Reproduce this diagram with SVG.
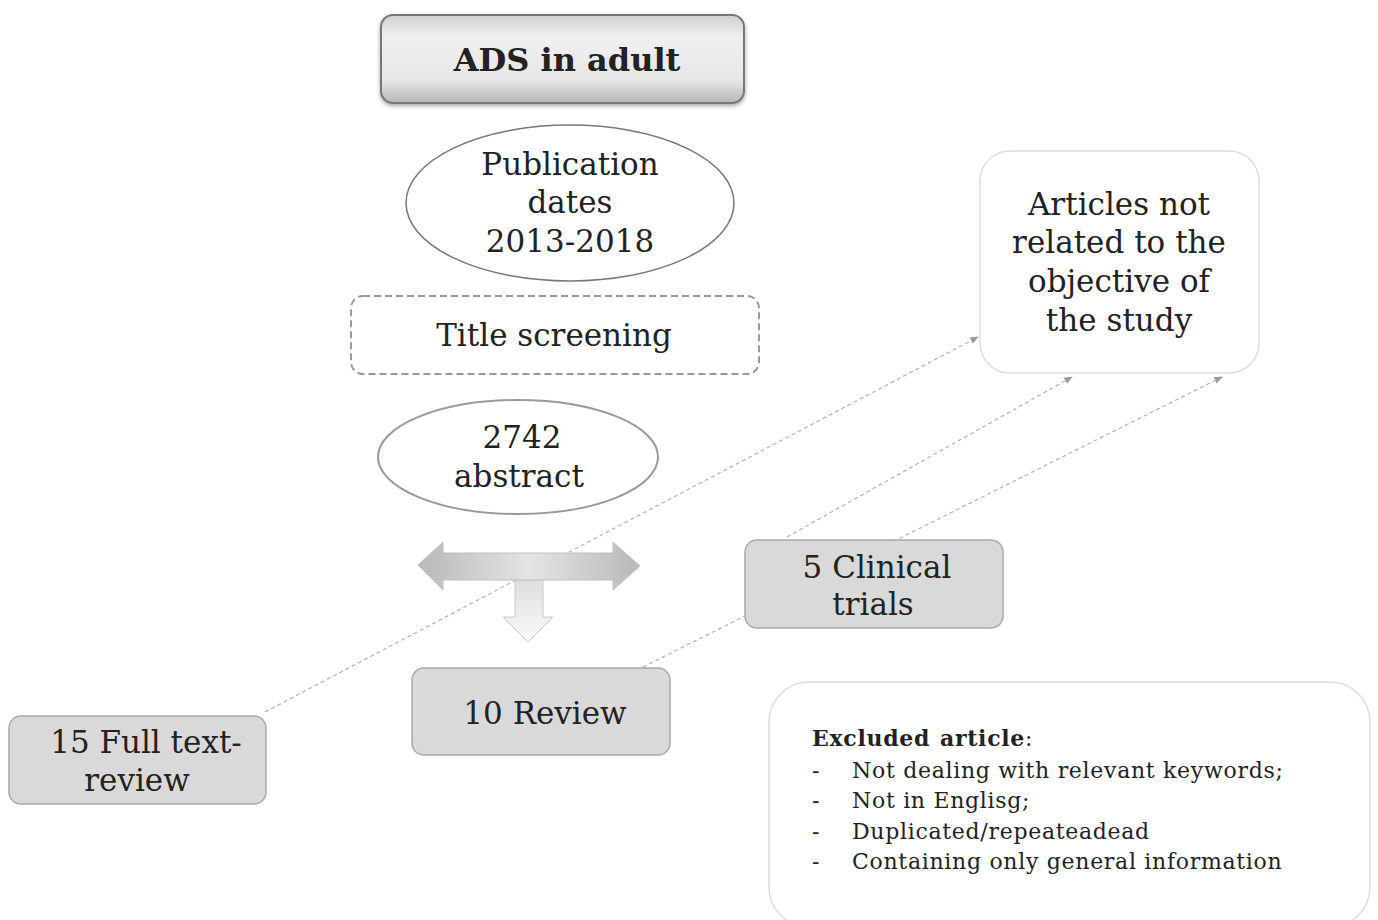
<svg xmlns="http://www.w3.org/2000/svg" width="1378" height="920" viewBox="0 0 1378 920">
<style>
text{font-family:"DejaVu Serif","Liberation Serif",serif;fill:#222;text-anchor:middle}
.t{font-size:31px}
.s{font-size:22px;letter-spacing:0.7px;text-anchor:start}
.gbox{fill:#d9d9d9;stroke:#a8a8a8;stroke-width:1.5}
.conn{fill:none;stroke:#b0b0b0;stroke-width:1.2;stroke-dasharray:4 3}
</style>
<defs>
<linearGradient id="topg" x1="0" y1="0" x2="0" y2="1">
<stop offset="0" stop-color="#cfcfcf"/><stop offset="0.25" stop-color="#f0f0f0"/><stop offset="0.75" stop-color="#e6e6e6"/><stop offset="1" stop-color="#b5b5b5"/>
</linearGradient>
<linearGradient id="hg" x1="0" y1="0" x2="1" y2="0">
<stop offset="0" stop-color="#b8b8b8"/><stop offset="0.5" stop-color="#e4e4e4"/><stop offset="1" stop-color="#b8b8b8"/>
</linearGradient>
<linearGradient id="vg" x1="0" y1="0" x2="0" y2="1">
<stop offset="0" stop-color="#dedede"/><stop offset="1" stop-color="#fafafa"/>
</linearGradient>
<marker id="ah" viewBox="0 0 10 10" refX="9" refY="5" markerWidth="7" markerHeight="7" orient="auto">
<path d="M0,1 L10,5 L0,9 z" fill="#999"/>
</marker>
<filter id="sh" x="-10%" y="-20%" width="120%" height="150%">
<feDropShadow dx="0" dy="2" stdDeviation="2" flood-color="#000" flood-opacity="0.35"/>
</filter>
</defs>

<g id="connectors">
<line class="conn" x1="265" y1="712" x2="978" y2="337" marker-end="url(#ah)"/>
<line class="conn" x1="787" y1="537" x2="1072" y2="377" marker-end="url(#ah)"/>
<line class="conn" x1="643" y1="667" x2="1222" y2="377" marker-end="url(#ah)"/>
</g>

<g id="ads">
<rect x="381" y="15" width="363" height="88" rx="12" fill="url(#topg)" stroke="#777" stroke-width="2" filter="url(#sh)"/>
<text x="567" y="71" font-size="32" font-weight="bold">ADS in adult</text>
</g>

<g id="pubdates">
<ellipse cx="570" cy="203" rx="164" ry="78" fill="#fff" stroke="#777" stroke-width="1.5"/>
<text x="570" y="175" class="t">Publication</text>
<text x="570" y="213" class="t">dates</text>
<text x="570" y="252" class="t">2013-2018</text>
</g>

<g id="title">
<rect x="351" y="296" width="408" height="78" rx="12" fill="#fff" stroke="#999" stroke-width="2" stroke-dasharray="7 4"/>
<text x="554" y="346" class="t">Title screening</text>
</g>

<g id="abstract">
<ellipse cx="518" cy="457" rx="140" ry="57" fill="#fff" stroke="#999" stroke-width="2"/>
<text x="522" y="448" class="t">2742</text>
<text x="519" y="487" class="t">abstract</text>
</g>

<g id="tarrow">
<path d="M528,642 L503,617 L515,617 L515,580 L543,580 L543,617 L553,617 Z" fill="url(#vg)" stroke="#c8c8c8" stroke-width="1"/>
<path d="M418,565 L443,542 L443,553 L613,553 L613,542 L640,566 L613,590 L613,580 L443,580 L443,590 Z" fill="url(#hg)" stroke="#c0c0c0" stroke-width="1"/>
</g>

<g id="clinical">
<rect x="745" y="540" width="258" height="88" rx="12" class="gbox"/>
<text x="877" y="578" class="t">5 Clinical</text>
<text x="873" y="615" class="t">trials</text>
</g>

<g id="review">
<rect x="412" y="668" width="258" height="87" rx="12" class="gbox"/>
<text x="545" y="724" class="t">10 Review</text>
</g>

<g id="fulltext">
<rect x="9" y="716" width="257" height="88" rx="12" class="gbox"/>
<text x="146" y="753" class="t">15 Full text-</text>
<text x="137" y="791" class="t">review</text>
</g>

<g id="articles">
<rect x="980" y="151" width="279" height="222" rx="30" fill="#fff" stroke="#ddd" stroke-width="1.5"/>
<text x="1119" y="215" class="t">Articles not</text>
<text x="1119" y="253" class="t">related to the</text>
<text x="1119" y="292" class="t">objective of</text>
<text x="1119" y="331" class="t">the study</text>
</g>

<g id="excluded">
<rect x="769" y="682" width="601" height="245" rx="40" fill="#fff" stroke="#ddd" stroke-width="1.5"/>
<text x="812" y="746" class="s" letter-spacing="0"><tspan font-weight="bold">Excluded</tspan><tspan font-weight="bold" dx="10">article</tspan>:</text>
<text x="812" y="778" class="s">-</text>
<text x="852" y="778" class="s">Not dealing with relevant keywords;</text>
<text x="812" y="808" class="s">-</text>
<text x="852" y="808" class="s">Not in Englisg;</text>
<text x="812" y="839" class="s">-</text>
<text x="852" y="839" class="s">Duplicated/repeateadead</text>
<text x="812" y="869" class="s">-</text>
<text x="852" y="869" class="s">Containing only general information</text>
</g>
</svg>
